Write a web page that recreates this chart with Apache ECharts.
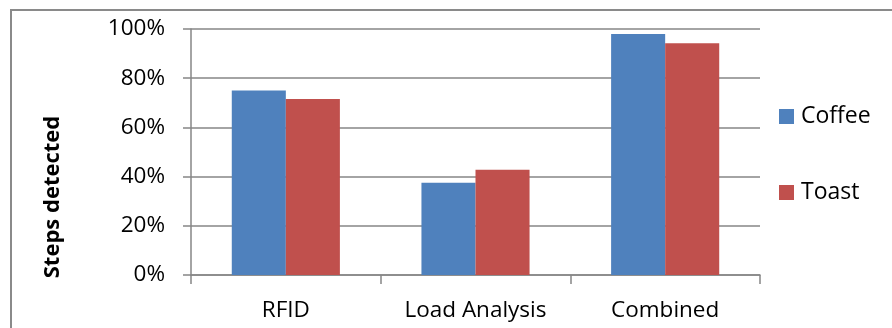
<!DOCTYPE html>
<html><head><meta charset="utf-8">
<script src="https://cdn.jsdelivr.net/npm/echarts@6/dist/echarts.min.js"></script>
<style>html,body{margin:0;padding:0;background:#fff}#c{width:892px;height:328px}</style>
</head><body><div id="c"></div>
<script>
const categories = ['RFID', 'Load Analysis', 'Combined'];
const coffee = [75, 37.5, 98];
const toast = [71.5, 42.8, 94.2];
const yTicks = [0, 20, 40, 60, 80, 100];
const axisTitle = 'Steps detected';

const chart = echarts.init(document.getElementById('c'));
const font = '"Open Sans", sans-serif';
chart.setOption({
  animation: false,
  grid: { left: 191, right: 132, top: 29, bottom: 53 },
  legend: {
    orient: 'vertical', left: 774, top: 100, itemGap: 53,
    itemWidth: 15, itemHeight: 15, icon: 'rect',
    textStyle: { fontFamily: font, fontSize: 23, color: '#000', padding: [0, 0, 0, 2] },
    data: ['Coffee', 'Toast']
  },
  xAxis: {
    type: 'category', data: categories,
    axisLine: { lineStyle: { color: '#868686', width: 1.5 } },
    axisTick: { show: true, length: 9, alignWithLabel: false, lineStyle: { color: '#868686', width: 1.5 } },
    axisLabel: { fontFamily: font, fontSize: 22.5, color: '#000', margin: 24 }
  },
  yAxis: {
    type: 'value', min: 0, max: 100, interval: 20,
    axisLine: { show: true, lineStyle: { color: '#868686', width: 1.5 } },
    axisTick: { show: true, length: 8, lineStyle: { color: '#868686', width: 1.5 } },
    splitLine: { lineStyle: { color: '#868686', width: 1.5 } },
    axisLabel: { fontFamily: font, fontSize: 22.5, color: '#000', margin: 26,
      formatter: v => yTicks.includes(v) ? v + '%' : '' }
  },
  graphic: [
    { type: 'rect', shape: { x: 11, y: 10, width: 900, height: 400 },
      style: { fill: 'none', stroke: '#8a8a8a', lineWidth: 2 }, z: -1 },
    { type: 'text', x: 53, y: 197, rotation: Math.PI / 2,
      style: { text: axisTitle, font: 'bold 22px "Open Sans", sans-serif', fill: '#000',
        align: 'center', verticalAlign: 'middle' } }
  ],
  series: [
    { name: 'Coffee', type: 'bar', data: coffee, barGap: '0%', barCategoryGap: '43%',
      itemStyle: { color: '#4F81BD' } },
    { name: 'Toast', type: 'bar', data: toast, barGap: '0%', barCategoryGap: '43%',
      itemStyle: { color: '#C0504D' } }
  ]
});
</script></body></html>
